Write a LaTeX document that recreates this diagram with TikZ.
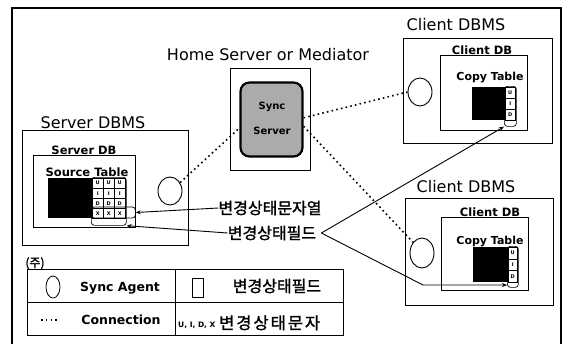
\documentclass[tikz,border=0pt]{standalone}
\usepackage{fontspec}
\setmainfont{DejaVu Sans}
\newfontfamily\kr{Noto Sans CJK KR}[FakeBold=1.4]
\newfontfamily\krwide{Noto Sans CJK KR}[FakeBold=1.4,LetterSpace=12]
\usetikzlibrary{arrows.meta,shapes.geometric}

\begin{document}
\begin{tikzpicture}[x=1pt,y=-1pt,
  box/.style={draw, line width=0.9pt, inner sep=0pt, outer sep=0pt, anchor=north west},
  head/.style={font=\fontsize{16}{16}\selectfont, anchor=base, inner sep=0pt},
  sub/.style={font=\fontsize{11.5}{12}\selectfont\bfseries, anchor=base, inner sep=0pt},
  agent/.style={draw, ellipse, line width=0.9pt, inner sep=0pt},
  conn/.style={line width=1.6pt, dash pattern=on 1.6pt off 3.2pt},
  ptr/.style={line width=0.9pt, -{Stealth[length=5pt,width=4pt]}},
  cell/.style={draw, line width=0.4pt, inner sep=0pt, anchor=north west,
    font=\fontsize{5}{5}\selectfont\bfseries},
  wrap/.style={draw, line width=0.7pt, rounded corners=3pt, inner sep=0pt, anchor=north west},
  blk/.style={fill=black, inner sep=0pt, anchor=north west},
  kor/.style={font=\kr\fontsize{16}{16}\selectfont, anchor=base, inner sep=0pt},
  leg/.style={font=\fontsize{12.5}{13}\selectfont\bfseries, anchor=base, inner sep=0pt},
]
\clip (0,0) rectangle (568,343);

% outer frame (open at the bottom)
\draw[line width=1.3pt] (12,350) -- (12,8) -- (561,8) -- (561,350);

% ---------- home server / mediator ----------
\node[head] (medlbl) at (268,60) {Home Server or Mediator};
\node[box, minimum width=80pt, minimum height=102pt] (med) at (230,68) {};
\node[draw, line width=2.2pt, rounded corners=9pt, fill=black!33,
      minimum width=62pt, minimum height=74pt, inner sep=0pt] (sync) at (271.5,119.5) {};
\node[font=\fontsize{10}{10}\selectfont\bfseries, anchor=base, inner sep=0pt] (synct) at (272,109) {Sync};
\node[font=\fontsize{10}{10}\selectfont\bfseries, anchor=base, inner sep=0pt] (syncs) at (272,134) {Server};

% ---------- server DBMS ----------
\node[head] (sdbmslbl) at (93,128) {Server DBMS};
\node[box, minimum width=166pt, minimum height=115pt] (sdbms) at (22,130) {};
\node[sub] (sdblbl) at (84,154) {Server DB};
\node[box, minimum width=102pt, minimum height=72pt] (sdb) at (33,155) {};
\node[sub] (stbl) at (87,176) {Source Table};
\node[blk, minimum width=44pt, minimum height=40pt] (sblk) at (48,178) {};
\foreach \l [count=\j from 0] in {U,I,D,X}
  \foreach \i in {0,1,2}
    \node[cell, minimum width=11pt, minimum height=10pt] (s\i\j) at (92+11*\i,178+10*\j) {\l};
\node[wrap, minimum width=35pt, minimum height=48pt] (sfield) at (91,177) {};
\node[draw, line width=0.7pt, rounded corners=3pt, inner sep=0pt, anchor=west,
      minimum width=44pt, minimum height=11pt] (sxstr) at (91,212.5) {};
\node[agent, minimum width=24pt, minimum height=28pt] (sagent) at (170,191) {};

% ---------- client DBMS (upper) ----------
\node[head] (c1lbl) at (456,30) {Client DBMS};
\node[box, minimum width=149pt, minimum height=105pt] (cdbms1) at (403,38) {};
\node[sub] (cdb1lbl) at (482,54) {Client DB};
\node[sub, font=\fontsize{11}{12}\selectfont\bfseries] (ctbl1) at (490,80) {Copy Table};
\node[box, minimum width=87pt, minimum height=75pt] (cdb1) at (440,55) {};
\node[blk, minimum width=33pt, minimum height=33pt] (cblk1) at (472,87) {};
\foreach \l [count=\j from 0] in {U,I,D}
  \node[cell, minimum width=10pt, minimum height=11pt] (c1\j) at (505,87+11*\j) {\l};
\node[wrap, minimum width=12pt, minimum height=40pt] (cfield1) at (504,86) {};
\node[agent, minimum width=24pt, minimum height=28pt] (cagent1) at (420,92) {};

% ---------- client DBMS (lower) ----------
\node[head] (c2lbl) at (466,192) {Client DBMS};
\node[box, minimum width=148pt, minimum height=107pt] (cdbms2) at (405,198) {};
\node[sub] (cdb2lbl) at (490,216) {Client DB};
\node[box, minimum width=87pt, minimum height=73pt] (cdb2) at (441,217) {};
\node[sub, font=\fontsize{11}{12}\selectfont\bfseries] (ctbl2) at (490,244) {Copy Table};
\node[blk, minimum width=35pt, minimum height=35pt] (cblk2) at (473,247) {};
\foreach \l [count=\j from 0] in {U,I,D}
  \node[cell, minimum width=9pt, minimum height=11.7pt] (c2\j) at (508,247+11.7*\j) {\l};
\node[wrap, minimum width=11pt, minimum height=41pt] (cfield2) at (507,246) {};
\node[agent, minimum width=24pt, minimum height=30pt] (cagent2) at (422,253) {};

% ---------- connections ----------
\draw[conn] (sagent.40) -- (sync.195);
\draw[conn] (sync.3) -- (cagent1.west);
\draw[conn] (sync.-12) -- (cagent2.130);

% ---------- status labels and pointers ----------
\node[kor] (strlbl) at (270,214) {변경상태문자열};
\node[kor] (fieldlbl) at (272,239) {변경상태필드};
\draw[ptr] (strlbl.west) -- (sxstr.east);
\draw[ptr] (fieldlbl.west) -- (sfield.south east);
\coordinate (fork) at ([xshift=5pt]fieldlbl.east);
\coordinate (bend) at (423,285);
\draw[ptr] (fork) -- (cfield1.south west);
\draw[ptr] (fork) -- (bend) -- (bend -| cfield2.west);

% ---------- legend ----------
\node[font=\kr\fontsize{12}{12}\selectfont, anchor=base, inner sep=0pt] (note) at (35,267) {(주)};
\node[box, minimum width=316pt, minimum height=66pt] (legend) at (27,269) {};
\draw[line width=0.9pt] (legend.west) -- (legend.east);
\draw[line width=0.9pt] ([xshift=148pt]legend.north west) -- ([xshift=148pt]legend.south west);
\node[agent, minimum width=14pt, minimum height=22pt, line width=0.8pt] (lagent) at (53,287) {};
\node[leg] (lagenttxt) at (120,291) {Sync Agent};
\coordinate (ldota) at (41,320);
\coordinate (ldotb) at (60,320);
\draw[conn, line width=1.4pt] (ldota) -- (ldotb);
\node[leg] (lconntxt) at (121,324) {Connection};
\node[draw, line width=0.8pt, inner sep=0pt, minimum width=11pt, minimum height=19pt] (lfield) at (197.5,287.5) {};
\node[kor] (lfieldtxt) at (277,292) {변경상태필드};
\node[font=\fontsize{7.5}{8}\selectfont\bfseries, anchor=base west, inner sep=0pt] (lchars) at (178,327) {U, I, D, X};
\node[font=\krwide\fontsize{16.5}{17}\selectfont, anchor=base west, inner sep=0pt] (lcharstxt) at (219,329) {변경상태문자};
\end{tikzpicture}
\end{document}
